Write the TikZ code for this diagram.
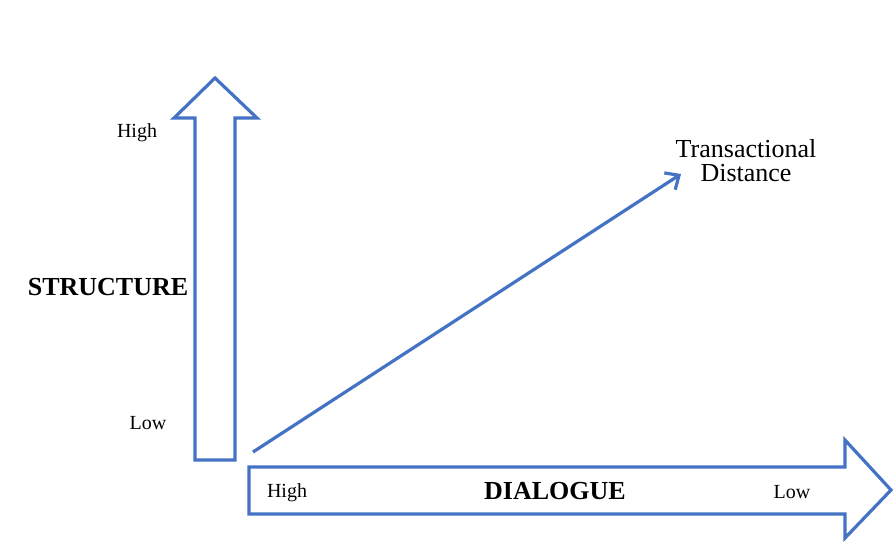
\documentclass[tikz,border=0pt]{standalone}
\usepackage{fontspec}
\setmainfont{Liberation Serif}
\usetikzlibrary{arrows.meta}
\definecolor{axisblue}{HTML}{4472C4}
\begin{document}
\begin{tikzpicture}[x=1pt,y=-1pt,
  outline/.style={draw=axisblue,line width=3.2pt,line join=miter,fill=white},
  lbl/.style={font=\fontsize{20}{22}\selectfont,inner sep=0pt},
  axislbl/.style={font=\fontsize{26}{28}\selectfont\bfseries,inner sep=0pt},
  link/.style={draw=axisblue,line width=3.2pt,-{Straight Barb[length=11pt,width=20pt,line width=3.2pt]}}]
\useasboundingbox (0,0) rectangle (896,542);
\fill[white] (0,0) rectangle (896,542);

% vertical block arrow (structure axis)
\draw[outline] (195,460) -- (235,460) -- (235,118) -- (257,118) -- (215,78)
  -- (174,118) -- (195,118) -- cycle;

% horizontal block arrow (dialogue axis)
\draw[outline] (249,467) -- (845,467) -- (845,440) -- (891,490) -- (845,538)
  -- (845,514) -- (249,514) -- cycle;

% labels
\node[lbl] (shigh) at (137,133) {High};
\node[lbl] (slow) at (148,423) {Low};
\node[axislbl] (structure) at (108,287) {STRUCTURE};
\node[lbl] (dhigh) at (287,493) {High};
\node[axislbl] (dialogue) at (555,491) {DIALOGUE};
\node[lbl] (dlow) at (792,492) {Low};
\node[align=center,inner sep=0pt,font=\fontsize{26}{24}\selectfont] (td) at (746,161)
  {Transactional\\Distance};

% transactional distance connector
\coordinate (origin) at (253,452);
\coordinate (tdtip) at (681,174);
\draw[link] (origin) -- (tdtip);
\end{tikzpicture}
\end{document}
